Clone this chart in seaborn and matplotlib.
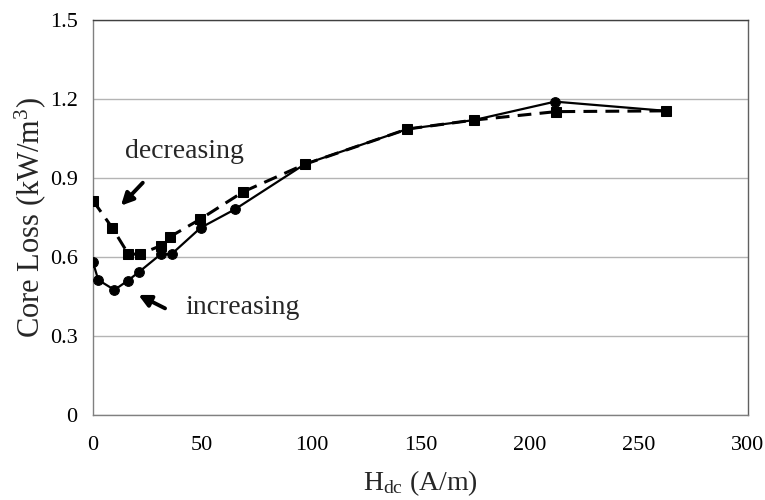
import matplotlib
matplotlib.use("Agg")
import matplotlib.pyplot as plt
import seaborn as sns
import pandas as pd

# Data
inc_h = [0, 2.4, 9.8, 15.9, 21.2, 31.1, 36.0, 49.3, 65.0, 97.1, 144.0, 174.5, 211.6, 262.3]
inc_loss = [0.580, 0.513, 0.475, 0.510, 0.544, 0.611, 0.611, 0.711, 0.781, 0.953, 1.086, 1.120, 1.190, 1.155]
dec_h = [0, 8.8, 16.2, 21.5, 31.1, 35.3, 49.0, 68.9, 97.0, 144.0, 174.5, 212.0, 262.3]
dec_loss = [0.814, 0.711, 0.611, 0.611, 0.643, 0.677, 0.743, 0.848, 0.952, 1.086, 1.120, 1.152, 1.155]
x_ticks = [0, 50, 100, 150, 200, 250, 300]
y_ticks = [0, 0.3, 0.6, 0.9, 1.2, 1.5]
y_tick_labels = ["0", "0.3", "0.6", "0.9", "1.2", "1.5"]

sns.set_theme(style="white")
plt.rcParams["font.family"] = ["Liberation Serif", "DejaVu Serif"]
plt.rcParams["mathtext.fontset"] = "custom"
plt.rcParams["mathtext.rm"] = "Liberation Serif"
plt.rcParams["mathtext.it"] = "Liberation Serif:italic"

fig = plt.figure(figsize=(7.65, 5.0), dpi=100)
ax = fig.add_axes([93 / 765, 1 - 415 / 500, (748 - 93) / 765, (415 - 20) / 500])

inc = pd.DataFrame({"h": inc_h, "loss": inc_loss})
dec = pd.DataFrame({"h": dec_h, "loss": dec_loss})

sns.lineplot(data=inc, x="h", y="loss", sort=False, ax=ax, color="black",
             lw=1.6, marker="o", markersize=7, markeredgecolor="black",
             markerfacecolor="black", zorder=3)
sns.lineplot(data=dec, x="h", y="loss", sort=False, ax=ax, color="black",
             lw=2.2, marker="s", markersize=6.5, markeredgecolor="black",
             markerfacecolor="black", zorder=4, dashes=False)
ax.lines[-1].set_dashes([4.5, 2.7])

ax.set_xlim(0, 300)
ax.set_ylim(0, 1.5)
ax.set_xticks(x_ticks)
ax.set_yticks(y_ticks)
ax.set_yticklabels(y_tick_labels)
ax.yaxis.grid(True, color="#b4b4b4", lw=1.0)
ax.xaxis.grid(False)
ax.set_axisbelow(True)

for side in ["left", "bottom", "right", "top"]:
    ax.spines[side].set_visible(True)
    ax.spines[side].set_color("#808080")
    ax.spines[side].set_linewidth(1.0)
ax.spines["top"].set_color("#404040")
ax.spines["right"].set_color("#606060")

ax.tick_params(axis="both", which="major", labelsize=16, colors="black",
               direction="out", length=5, width=1, color="#a0a0a0", pad=6)
ax.tick_params(axis="x", pad=10)

ax.set_xlabel(r"H$_{\mathrm{dc}}$ (A/m)", fontsize=20, labelpad=10)
ax.set_ylabel(r"Core Loss (kW/m$^{3}$)", fontsize=22, labelpad=1)

ax.annotate("", xy=(12.8, 0.795), xytext=(22.8, 0.882),
            arrowprops=dict(arrowstyle="-|>", lw=2.8, color="black", mutation_scale=18,
                            shrinkA=0, shrinkB=0))
ax.annotate("", xy=(20.8, 0.456), xytext=(33.0, 0.405),
            arrowprops=dict(arrowstyle="-|>", lw=2.8, color="black", mutation_scale=18,
                            shrinkA=0, shrinkB=0))
ax.text(42.1, 1.0, "decreasing", fontsize=20, ha="center", va="center")
ax.text(68.7, 0.41, "increasing", fontsize=20, ha="center", va="center")

fig.savefig("out.png", dpi=100)
